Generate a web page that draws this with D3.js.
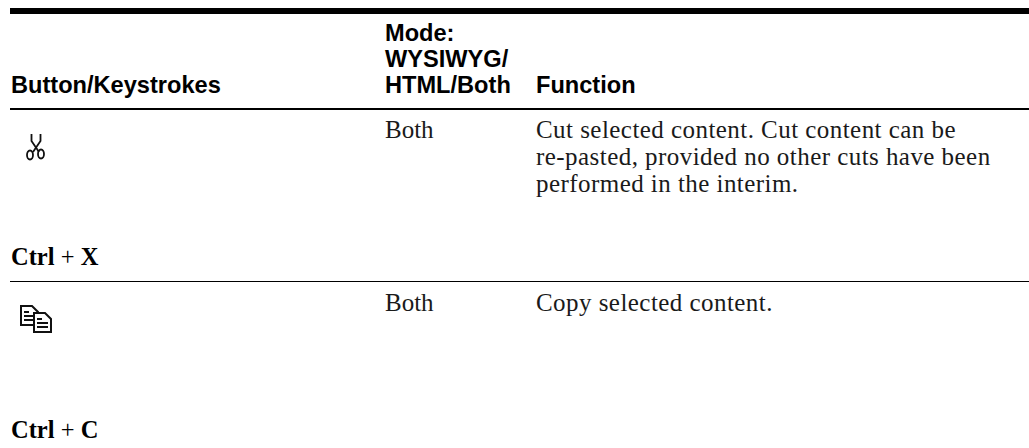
<!DOCTYPE html>
<html>
<head>
<meta charset="utf-8">
<script src="https://cdn.jsdelivr.net/npm/d3@7"></script>
<style>
  html, body { margin: 0; background: #fff; }
  .head { font: bold 23.6px "Liberation Sans", sans-serif; fill: #000; }
  .cell { font: 25px "Liberation Serif", serif; fill: #1a1a1a; }
  .f { letter-spacing: 0.45px; }
  .key { font: bold 24.5px "Liberation Serif", serif; fill: #000; }
</style>
</head>
<body>
<script>
const columns = ['keys', 'mode', 'func'];
const headers = [['Button/Keystrokes'], ['Mode:', 'WYSIWYG/', 'HTML/Both'], ['Function']];
const rowNames = ['cut', 'copy'];
const modes = ['Both', 'Both'];
const functions = [
  ['Cut selected content. Cut content can be', 're-pasted, provided no other cuts have been', 'performed in the interim.'],
  ['Copy selected content.']
];
const keystrokes = [['Ctrl', 'X'], ['Ctrl', 'C']];

const width = 1029, height = 448;
const svg = d3.select('body').append('svg')
  .attr('width', width)
  .attr('height', height)
  .style('display', 'block');

// column positions
const x = d3.scaleOrdinal().domain(columns).range([11, 385, 536]);
// row positions, first text baseline of each row
const rowY = d3.scaleOrdinal().domain(rowNames).range([138, 311]);
const keyY = d3.scaleOrdinal().domain(rowNames).range([265, 438]);
const lineH = 27;

// rules
svg.append('rect').attr('x', 10).attr('y', 8).attr('width', 1019).attr('height', 6);
svg.append('rect').attr('x', 10).attr('y', 108).attr('width', 1019).attr('height', 2);
svg.append('rect').attr('x', 10).attr('y', 281).attr('width', 1019).attr('height', 1);

// header
svg.selectAll('g.h').data(headers).enter().append('g')
  .attr('class', 'h')
  .each(function (lines, i) {
    d3.select(this).selectAll('text').data(lines).enter().append('text')
      .attr('class', 'head')
      .attr('x', x(columns[i]))
      .attr('y', (d, j) => 93 - (lines.length - 1 - j) * 26)
      .text(d => d);
  });

const rows = svg.selectAll('g.r').data(rowNames).enter().append('g').attr('class', 'r');

rows.append('text').attr('class', 'cell')
  .attr('x', x('mode'))
  .attr('y', d => rowY(d))
  .text((d, i) => modes[i]);

rows.each(function (name, i) {
  d3.select(this).selectAll('text.f').data(functions[i]).enter().append('text')
    .attr('class', 'cell f')
    .attr('x', x('func'))
    .attr('y', (d, j) => rowY(name) + j * lineH)
    .text(d => d);
});

// keystrokes: bold key names, regular plus
const key = rows.append('text').attr('class', 'key')
  .attr('x', x('keys'))
  .attr('y', d => keyY(d));
key.append('tspan').text((d, i) => keystrokes[i][0]);
key.append('tspan').style('font-weight', 'normal').text(' + ');
key.append('tspan').text((d, i) => keystrokes[i][1]);

// scissors icon
const cut = svg.append('g').attr('transform', 'translate(26,132)')
  .attr('fill', 'none').attr('stroke', '#111').attr('stroke-width', 1.8);
cut.append('path').attr('d', 'M5.5 2 V9 L13 20 M14.5 2 V9 L7 20');
cut.append('ellipse').attr('cx', 4).attr('cy', 23).attr('rx', 3).attr('ry', 4.5);
cut.append('ellipse').attr('cx', 15).attr('cy', 22).attr('rx', 3).attr('ry', 4.5);

// copy icon
const copy = svg.append('g').attr('transform', 'translate(20,305)')
  .attr('stroke', '#111').attr('stroke-width', 2);
[[0, 0], [13, 7]].forEach(o => {
  const p = copy.append('g').attr('transform', `translate(${o[0]},${o[1]})`);
  p.append('path').attr('fill', '#fff').attr('d', 'M1 1 H12 L18 7 V20 H1 Z');
  p.append('path').attr('fill', 'none').attr('d', 'M4 7 H9 M4 11 H15 M4 15 H15');
});
</script>
</body>
</html>
